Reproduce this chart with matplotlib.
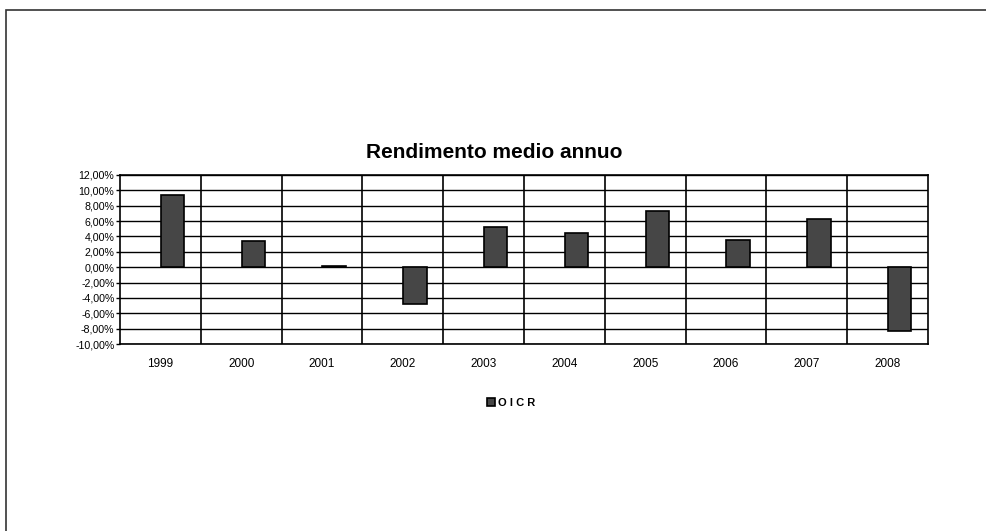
import matplotlib
matplotlib.use("Agg")
import matplotlib.pyplot as plt
from matplotlib.patches import Rectangle
import numpy as np

years = ["1999", "2000", "2001", "2002", "2003", "2004", "2005", "2006", "2007", "2008"]
oicr = [9.4, 3.4, 0.2, -4.8, 5.2, 4.4, 7.3, 3.6, 6.25, -8.3]
yticks = [-10, -8, -6, -4, -2, 0, 2, 4, 6, 8, 10, 12]

plt.rcParams['font.family'] = ['Liberation Sans', 'DejaVu Sans']

fig = plt.figure(figsize=(9.86, 5.31), dpi=100)
ax = fig.add_axes([120/986, 1-344/531, (928-120)/986, (344-175)/531])

x = np.arange(len(years))
bars = ax.bar(x + 0.15, oicr, width=0.29, color='#464646', edgecolor='black', linewidth=1.2, label='OICR', zorder=3)

ax.set_xlim(-0.5, len(years) - 0.5)
ax.set_ylim(-10, 12)
ax.set_yticks(yticks)
ax.set_yticklabels([f"{v:.2f}%".replace('.', ',') for v in yticks], fontsize=7.7)
ax.set_xticks(x)
ax.set_xticklabels(years, fontsize=8.5)
ax.tick_params(axis='x', length=0, pad=10)
ax.tick_params(axis='y', length=3, width=1, pad=1)

for v in yticks:
    ax.axhline(v, color='black', linewidth=1, zorder=1)
for b in np.arange(0.5, len(years) - 0.5, 1):
    ax.axvline(b, color='black', linewidth=1.2, zorder=1)
for s in ax.spines.values():
    s.set_linewidth(1.2)

fig.text(494/986, 1-152/531, "Rendimento medio annuo", ha='center', va='center', fontsize=15, fontweight='bold')

leg = fig.legend(handles=[bars], labels=['O I C R'], loc='center', bbox_to_anchor=(0.518, 1-403/531),
                 frameon=False, prop={'weight': 'bold', 'size': 8},
                 handlelength=0.75, handleheight=0.7, handletextpad=0.25)

# outer frame (left and top edges visible)
fig.add_artist(Rectangle((6/986, -0.05), 1.2, 1 - 10/531 + 0.05, transform=fig.transFigure,
                         fill=False, edgecolor='#333333', linewidth=1.2))

fig.savefig("out.png", dpi=100)
